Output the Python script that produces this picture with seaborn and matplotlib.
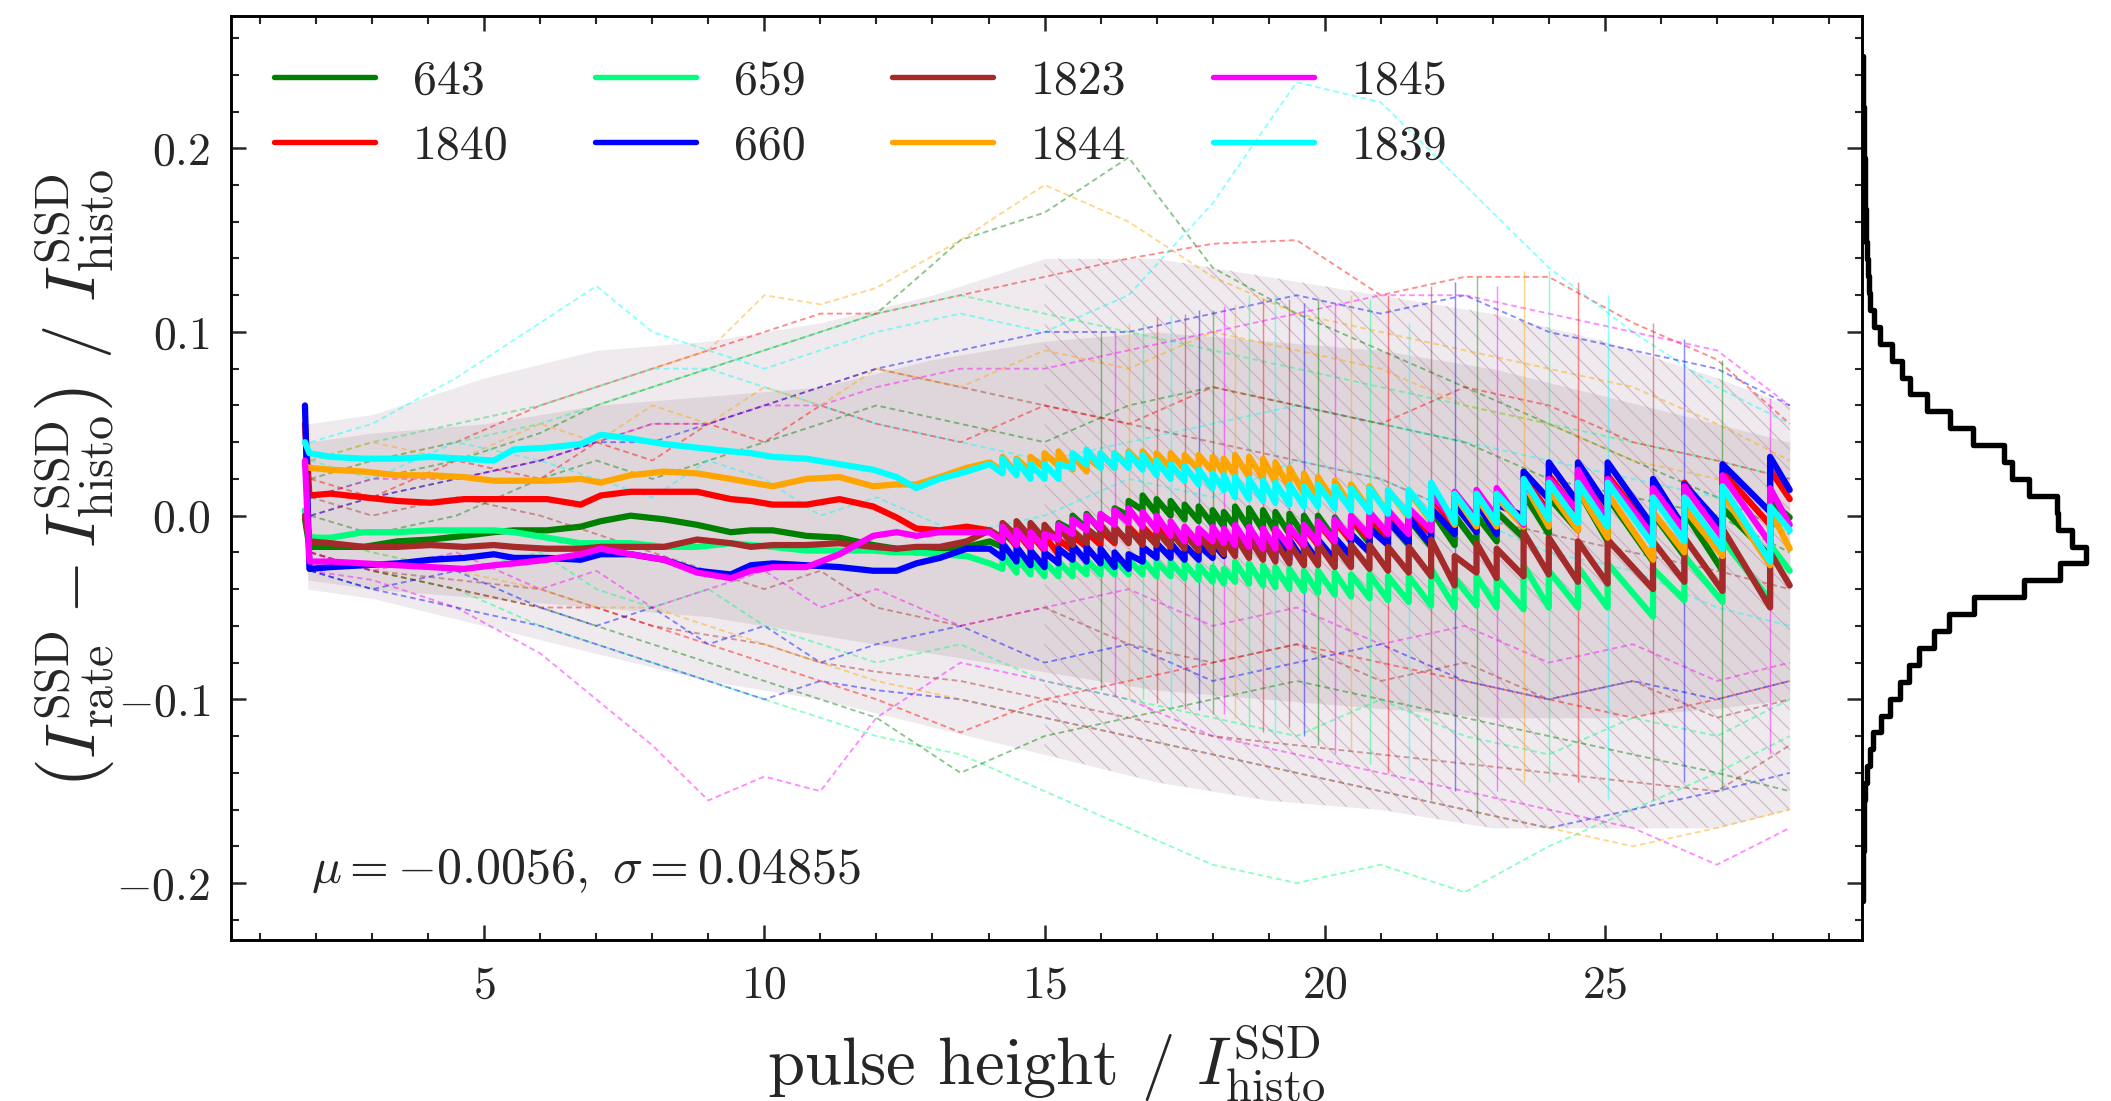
import numpy as np
import pandas as pd
import matplotlib
matplotlib.use("Agg")
import matplotlib.pyplot as plt
from matplotlib.lines import Line2D
from matplotlib.ticker import MultipleLocator
import seaborn as sns

# ---------------- data ----------------
names = ["643", "1840", "659", "660", "1823", "1844", "1845", "1839"]
colors = ["green", "red", "springgreen", "blue", "brown", "orange", "magenta", "cyan"]

# smooth early part (shared x)
XA = [1.80, 1.88, 2.26, 2.85, 3.45, 4.04, 4.64, 5.17, 5.53, 6.12, 6.72, 7.08, 7.61,
      8.21, 8.80, 9.40, 9.76, 10.15, 10.75, 11.34, 11.94, 12.36, 12.71, 13.13, 13.61, 14.02]
# jump positions of the sawtooth part (shared) and jump heights
JX = [14.25, 14.5, 14.75, 15.0, 15.25, 15.5, 15.75, 16.0, 16.25, 16.5, 16.75, 17.0, 17.25,
      17.5, 17.75, 18.0, 18.2,
      18.40, 18.65, 18.90, 19.12, 19.37, 19.63, 19.88, 20.18, 20.47, 20.80, 21.13, 21.50,
      21.90, 22.32, 22.71, 23.07, 23.55, 24.00, 24.52, 25.05, 25.86, 26.42, 27.10, 27.95]
JH = [0.008] * 17 + [0.011, 0.011, 0.011, 0.011, 0.011, 0.011, 0.012, 0.012, 0.012, 0.013,
                     0.013, 0.014, 0.020, 0.016, 0.016, 0.016, 0.024, 0.020, 0.022, 0.024,
                     0.026, 0.024, 0.034, 0.030]
X_END = 28.3

ya_643 = [-0.002, -0.017, -0.017, -0.017, -0.014, -0.013, -0.011, -0.009, -0.008, -0.008, -0.006,
          -0.003, 0.000, -0.002, -0.005, -0.009, -0.008, -0.008, -0.011, -0.012, -0.016, -0.018,
          -0.020, -0.018, -0.017, -0.014]
lo_643 = [-0.017, -0.016, -0.016, -0.015, -0.012, -0.008, -0.007, -0.008, -0.004, 0.000, 0.003,
          0.001, 0.000, -0.002, -0.003, -0.005, -0.006,
          -0.006, -0.007, -0.008, -0.009, -0.010, -0.011, -0.012, -0.013, -0.014, -0.015, -0.016,
          -0.016, -0.017, -0.016, -0.016, -0.014, -0.012, -0.010, -0.008, -0.014, -0.025, -0.022,
          -0.030, -0.022]
end_643 = -0.001

ya_1840 = [0.050, 0.011, 0.012, 0.010, 0.008, 0.007, 0.009, 0.009, 0.009, 0.009, 0.006, 0.011,
           0.013, 0.013, 0.013, 0.009, 0.008, 0.006, 0.006, 0.009, 0.005, -0.001, -0.007, -0.008,
           -0.006, -0.008]
lo_1840 = [-0.014, -0.017, -0.018, -0.019, -0.021, -0.019, -0.017, -0.016, -0.015, -0.014, -0.014,
           -0.014, -0.015, -0.015, -0.016, -0.016, -0.017,
           -0.018, -0.018, -0.019, -0.019, -0.018, -0.017, -0.016, -0.015, -0.014, -0.013, -0.012,
           -0.012, -0.010, -0.006, -0.005, -0.006, -0.003, 0.002, 0.002, -0.002, -0.010, -0.006,
           -0.010, -0.005]
end_1840 = 0.009

ya_659 = [0.003, -0.012, -0.012, -0.009, -0.009, -0.008, -0.008, -0.008, -0.009, -0.012, -0.015,
          -0.015, -0.015, -0.017, -0.017, -0.015, -0.016, -0.017, -0.019, -0.019, -0.019, -0.020,
          -0.020, -0.021, -0.022, -0.026]
lo_659 = [-0.029, -0.031, -0.032, -0.033, -0.033, -0.033, -0.032, -0.032, -0.032, -0.032, -0.032,
          -0.033, -0.033, -0.034, -0.035, -0.036, -0.037,
          -0.036, -0.037, -0.038, -0.039, -0.040, -0.041, -0.042, -0.043, -0.044, -0.045, -0.046,
          -0.047, -0.049, -0.050, -0.049, -0.050, -0.051, -0.050, -0.050, -0.050, -0.055, -0.046,
          -0.047, -0.046]
end_659 = -0.030

ya_660 = [0.060, -0.029, -0.028, -0.027, -0.026, -0.024, -0.023, -0.021, -0.023, -0.023, -0.024,
          -0.021, -0.021, -0.024, -0.030, -0.032, -0.027, -0.026, -0.027, -0.028, -0.030, -0.030,
          -0.026, -0.023, -0.018, -0.018]
lo_660 = [-0.023, -0.025, -0.027, -0.028, -0.026, -0.024, -0.025, -0.026, -0.028, -0.029, -0.025,
          -0.023, -0.023, -0.024, -0.024, -0.023, -0.022,
          -0.020, -0.021, -0.022, -0.023, -0.024, -0.025, -0.025, -0.024, -0.022, -0.020, -0.016,
          -0.015, -0.016, -0.010, -0.009, -0.010, 0.000, 0.009, 0.007, 0.005, -0.006, -0.007,
          -0.006, 0.002]
end_660 = 0.014

ya_1823 = [0.000, -0.014, -0.015, -0.017, -0.017, -0.016, -0.017, -0.016, -0.017, -0.018, -0.018,
           -0.017, -0.017, -0.017, -0.013, -0.015, -0.017, -0.016, -0.016, -0.015, -0.017, -0.018,
           -0.017, -0.017, -0.014, -0.008]
lo_1823 = [-0.012, -0.011, -0.012, -0.013, -0.014, -0.016, -0.015, -0.013, -0.014, -0.015, -0.016,
           -0.016, -0.017, -0.018, -0.019, -0.020, -0.021,
           -0.022, -0.023, -0.024, -0.025, -0.026, -0.027, -0.027, -0.028, -0.028, -0.029, -0.030,
           -0.031, -0.033, -0.038, -0.031, -0.034, -0.033, -0.032, -0.036, -0.037, -0.040, -0.036,
           -0.041, -0.050]
end_1823 = -0.038

ya_1844 = [0.027, 0.026, 0.025, 0.024, 0.022, 0.022, 0.021, 0.019, 0.019, 0.019, 0.020, 0.018,
           0.022, 0.024, 0.023, 0.020, 0.018, 0.016, 0.020, 0.021, 0.016, 0.017, 0.017, 0.021,
           0.026, 0.029]
lo_1844 = [0.024, 0.023, 0.024, 0.026, 0.027, 0.025, 0.024, 0.026, 0.026, 0.027, 0.027, 0.026,
           0.026, 0.025, 0.025, 0.024, 0.023,
           0.022, 0.021, 0.020, 0.018, 0.015, 0.012, 0.009, 0.007, 0.005, 0.003, 0.001, -0.001,
           -0.003, -0.005, -0.006, -0.006, -0.006, -0.006, -0.008, -0.012, -0.024, -0.020, -0.022,
           -0.027]
end_1844 = -0.018

ya_1845 = [0.030, -0.025, -0.025, -0.026, -0.027, -0.028, -0.029, -0.027, -0.026, -0.024, -0.021,
           -0.018, -0.021, -0.024, -0.031, -0.034, -0.030, -0.028, -0.028, -0.021, -0.011, -0.009,
           -0.011, -0.009, -0.009, -0.009]
lo_1845 = [-0.014, -0.016, -0.017, -0.018, -0.013, -0.010, -0.008, -0.007, -0.005, -0.004, -0.006,
           -0.008, -0.011, -0.014, -0.015, -0.014, -0.015,
           -0.016, -0.017, -0.018, -0.018, -0.017, -0.016, -0.015, -0.014, -0.012, -0.011, -0.010,
           -0.010, -0.008, -0.003, -0.002, -0.001, -0.005, 0.000, 0.003, -0.004, -0.011, -0.008,
           -0.012, -0.015]
end_1845 = -0.005

ya_1839 = [0.040, 0.034, 0.032, 0.031, 0.031, 0.032, 0.031, 0.030, 0.036, 0.037, 0.039, 0.044,
           0.042, 0.039, 0.037, 0.035, 0.034, 0.032, 0.031, 0.028, 0.025, 0.021, 0.015, 0.020,
           0.024, 0.028]
lo_1839 = [0.023, 0.022, 0.020, 0.020, 0.020, 0.026, 0.028, 0.026, 0.026, 0.026, 0.025, 0.022,
           0.020, 0.019, 0.017, 0.015, 0.014,
           0.010, 0.009, 0.008, 0.007, 0.006, 0.005, 0.005, 0.004, 0.003, 0.002, 0.001, 0.000,
           -0.002, -0.004, -0.004, -0.004, -0.004, -0.002, -0.004, -0.006, -0.016, -0.014, -0.018,
           -0.025]
end_1839 = -0.008

series_ya = [ya_643, ya_1840, ya_659, ya_660, ya_1823, ya_1844, ya_1845, ya_1839]
series_lo = [lo_643, lo_1840, lo_659, lo_660, lo_1823, lo_1844, lo_1845, lo_1839]
series_end = [end_643, end_1840, end_659, end_660, end_1823, end_1844, end_1845, end_1839]

# faint background runs (coarse)
FX = [1.9, 3, 4.5, 6, 7, 8, 9, 10, 11, 12, 13.5, 15, 16.5, 18, 19.5, 21, 22.5, 24, 25.5, 27, 28.3]
faint_y = [
    [0.01, 0.02, 0.03, 0.045, 0.06, 0.07, 0.08, 0.09, 0.10, 0.11, 0.15, 0.165, 0.195, 0.135, 0.11, 0.09, 0.07, 0.05, 0.03, 0.01, -0.01],
    [-0.02, -0.03, -0.04, -0.06, -0.07, -0.08, -0.09, -0.10, -0.11, -0.12, -0.13, -0.15, -0.17, -0.19, -0.20, -0.19, -0.205, -0.18, -0.16, -0.14, -0.12],
    [0.0, 0.01, 0.02, 0.03, 0.04, 0.05, 0.05, 0.06, 0.07, 0.08, 0.07, 0.06, 0.05, 0.04, 0.03, 0.02, 0.0, -0.01, -0.02, -0.03, -0.04],
    [-0.03, -0.035, -0.05, -0.075, -0.10, -0.125, -0.155, -0.142, -0.15, -0.11, -0.08, -0.09, -0.10, -0.12, -0.13, -0.14, -0.15, -0.16, -0.17, -0.19, -0.17],
    [0.02, 0.03, 0.04, 0.06, 0.07, 0.08, 0.09, 0.10, 0.11, 0.11, 0.12, 0.13, 0.14, 0.148, 0.15, 0.12, 0.13, 0.13, 0.105, 0.085, 0.05],
    [-0.03, -0.04, -0.05, -0.06, -0.07, -0.08, -0.09, -0.10, -0.09, -0.095, -0.10, -0.11, -0.12, -0.13, -0.14, -0.15, -0.16, -0.17, -0.16, -0.15, -0.14],
    [0.03, 0.04, 0.05, 0.06, 0.07, 0.08, 0.09, 0.12, 0.115, 0.124, 0.15, 0.18, 0.16, 0.13, 0.11, 0.10, 0.09, 0.08, 0.07, 0.05, 0.03],
    [0.04, 0.05, 0.075, 0.105, 0.125, 0.10, 0.09, 0.08, 0.09, 0.10, 0.11, 0.10, 0.12, 0.17, 0.236, 0.225, 0.18, 0.135, 0.10, 0.07, 0.05],
    [-0.02, -0.03, -0.04, -0.05, -0.06, -0.07, -0.08, -0.09, -0.10, -0.11, -0.14, -0.12, -0.11, -0.10, -0.09, -0.10, -0.11, -0.12, -0.13, -0.14, -0.15],
    [0.02, 0.03, 0.04, 0.05, 0.06, 0.07, 0.08, 0.09, 0.10, 0.11, 0.12, 0.11, 0.10, 0.09, 0.08, 0.07, 0.06, 0.05, 0.04, 0.03, 0.02],
    [-0.02, -0.03, -0.035, -0.04, -0.05, -0.06, -0.065, -0.07, -0.08, -0.085, -0.09, -0.10, -0.11, -0.12, -0.125, -0.13, -0.135, -0.14, -0.145, -0.15, -0.125],
    [0.01, 0.02, 0.02, 0.03, 0.04, 0.05, 0.05, 0.06, 0.06, 0.07, 0.08, 0.08, 0.09, 0.10, 0.11, 0.12, 0.12, 0.11, 0.10, 0.09, 0.06],
    [-0.02, -0.03, -0.04, -0.05, -0.05, -0.06, -0.07, -0.08, -0.09, -0.10, -0.118, -0.10, -0.09, -0.08, -0.07, -0.08, -0.09, -0.10, -0.11, -0.10, -0.09],
    [0.0, 0.01, 0.02, 0.03, 0.04, 0.04, 0.05, 0.06, 0.07, 0.08, 0.09, 0.10, 0.10, 0.11, 0.12, 0.11, 0.12, 0.10, 0.09, 0.08, 0.06],
    [-0.01, -0.02, -0.03, -0.04, -0.05, -0.05, -0.06, -0.07, -0.08, -0.09, -0.10, -0.11, -0.12, -0.13, -0.14, -0.15, -0.16, -0.17, -0.18, -0.17, -0.16],
    [0.03, 0.04, 0.05, 0.06, 0.07, 0.08, 0.08, 0.07, 0.06, 0.05, 0.04, 0.03, 0.04, 0.05, 0.06, 0.05, 0.04, 0.03, 0.02, 0.01, 0.0],
    [0.0, -0.01, 0.0, 0.02, 0.03, 0.02, 0.03, 0.04, 0.05, 0.06, 0.05, 0.04, 0.06, 0.07, 0.06, 0.05, 0.04, 0.02, 0.01, 0.0, -0.02],
    [-0.01, -0.02, -0.03, -0.02, -0.04, -0.05, -0.04, -0.06, -0.07, -0.08, -0.07, -0.09, -0.10, -0.11, -0.12, -0.10, -0.12, -0.13, -0.11, -0.12, -0.10],
    [0.01, 0.0, 0.01, 0.0, -0.01, -0.02, -0.03, -0.04, -0.03, -0.05, -0.06, -0.05, -0.07, -0.08, -0.07, -0.09, -0.08, -0.10, -0.09, -0.11, -0.10],
    [-0.02, -0.03, -0.02, -0.04, -0.03, -0.05, -0.04, -0.03, -0.05, -0.04, -0.06, -0.05, -0.04, -0.06, -0.05, -0.07, -0.06, -0.08, -0.07, -0.09, -0.08],
    [0.02, 0.01, 0.03, 0.02, 0.04, 0.03, 0.05, 0.04, 0.06, 0.05, 0.04, 0.06, 0.05, 0.07, 0.06, 0.05, 0.07, 0.06, 0.04, 0.03, 0.02],
    [-0.03, -0.04, -0.03, -0.05, -0.06, -0.05, -0.07, -0.06, -0.08, -0.07, -0.06, -0.08, -0.07, -0.09, -0.08, -0.07, -0.09, -0.10, -0.09, -0.10, -0.09],
    [0.03, 0.04, 0.03, 0.05, 0.04, 0.06, 0.05, 0.07, 0.06, 0.08, 0.07, 0.09, 0.08, 0.10, 0.09, 0.08, 0.06, 0.05, 0.03, 0.02, 0.0],
    [0.03, 0.02, 0.04, 0.03, 0.02, 0.01, 0.03, 0.02, 0.0, 0.01, -0.01, 0.0, 0.02, 0.01, 0.03, 0.02, 0.0, -0.02, -0.03, -0.05, -0.06],
]

# envelope of the dense cloud of runs
EX = [1.85, 3, 5, 7, 9, 11, 13, 15, 17, 19, 21, 23, 25, 27, 28.3]
outer_hi = [0.05, 0.055, 0.075, 0.09, 0.095, 0.105, 0.12, 0.14, 0.14, 0.13, 0.12, 0.11, 0.095, 0.075, 0.06]
outer_lo = [-0.04, -0.045, -0.06, -0.075, -0.09, -0.10, -0.115, -0.13, -0.145, -0.155, -0.16, -0.17, -0.17, -0.17, -0.16]
core_hi = [0.04, 0.045, 0.05, 0.06, 0.065, 0.07, 0.085, 0.095, 0.10, 0.095, 0.09, 0.08, 0.065, 0.05, 0.04]
core_lo = [-0.035, -0.04, -0.045, -0.05, -0.055, -0.065, -0.075, -0.085, -0.095, -0.10, -0.105, -0.11, -0.11, -0.105, -0.10]

# vertical jump strokes of the background runs
VX = JX[7:]
VTOP = [0.100, 0.100, 0.105, 0.105, 0.108, 0.110, 0.110, 0.112, 0.112, 0.114,
        0.115, 0.120, 0.118, 0.120, 0.118, 0.116, 0.118, 0.115, 0.120, 0.118, 0.120, 0.105,
        0.125, 0.127, 0.130, 0.125, 0.133, 0.133, 0.127, 0.120, 0.105, 0.096, 0.085, 0.064]
VBOT = [-0.095, -0.098, -0.100, -0.100, -0.102, -0.104, -0.105, -0.106, -0.108, -0.108,
        -0.110, -0.115, -0.118, -0.120, -0.115, -0.120, -0.125, -0.130, -0.128, -0.135, -0.140,
        -0.140, -0.155, -0.150, -0.164, -0.150, -0.145, -0.145, -0.145, -0.155, -0.155, -0.145,
        -0.150, -0.130]

# marginal histogram (counts per bin, bottom to top)
hist_lo, hist_hi, hist_n = -0.21, 0.25, 50
hist_counts = [2, 3, 4, 5, 6, 7, 10, 15, 23, 33, 57, 85, 113, 140, 170, 215, 260, 335, 485, 595,
               672, 630, 587, 585, 500, 450, 425, 333, 265, 195, 143, 120, 90, 55, 35, 25, 20, 17,
               15, 13, 12, 10, 9, 8, 7, 6, 5, 4, 4, 3]

stats_text = r"$\mu = -0.0056,\ \sigma = 0.04855$"

# ---------------- style ----------------
sns.set_style("ticks")
plt.rcParams.update({
    "font.family": "serif",
    "font.serif": ["cmr10", "DejaVu Serif"],
    "mathtext.fontset": "cm",
    "axes.formatter.use_mathtext": True,
    "axes.unicode_minus": True,
    "xtick.direction": "in", "ytick.direction": "in",
    "xtick.top": True, "ytick.right": True,
    "xtick.major.size": 3.5, "ytick.major.size": 3.5,
    "xtick.minor.size": 1.8, "ytick.minor.size": 1.8,
    "xtick.major.width": 0.6, "ytick.major.width": 0.6,
    "xtick.minor.width": 0.5, "ytick.minor.width": 0.5,
    "axes.linewidth": 0.7,
    "axes.edgecolor": "black",
    "hatch.linewidth": 0.3,
})

fig = plt.figure(figsize=(2111 / 300, 1101 / 300), dpi=300)
ax = fig.add_axes([231 / 2111, 161 / 1101, (1862 - 231) / 2111, (940 - 16) / 1101])
axh = fig.add_axes([1862 / 2111, 161 / 1101, (2100 - 1862) / 2111, (940 - 16) / 1101], sharey=ax)

# cloud
ax.fill_between(EX, outer_lo, outer_hi, color="#dcd2da", alpha=0.45, lw=0, zorder=1)
ax.fill_between(EX, core_lo, core_hi, color="#cdbfc6", alpha=0.45, lw=0, zorder=1)
# declining saw-teeth texture of the many runs beyond x ~ 15
ax.fill_between(EX[7:], outer_lo[7:], outer_hi[7:], facecolor="none", edgecolor="#b48ca6",
                hatch="\\\\\\\\\\", lw=0, alpha=0.5, zorder=1)

faint_colors = ["green", "springgreen", "brown", "magenta", "red", "blue", "orange", "cyan"]
for i, ys in enumerate(faint_y):
    sns.lineplot(x=FX, y=ys, color=faint_colors[i % 8], lw=0.45, alpha=0.45,
                 dashes=False, ls=(0, (3, 2)), estimator=None, sort=False, ax=ax,
                 legend=False, zorder=2)

ax.vlines(VX, VBOT, VTOP, colors=[faint_colors[(i * 3) % 8] for i in range(len(VX))], lw=0.35,
          alpha=0.45, zorder=2)

# bold runs
for name, c, ya, lo, ye in zip(names, colors, series_ya, series_lo, series_end):
    xs = list(XA)
    ys = list(ya)
    for xj, hj, l in zip(JX, JH, lo):
        xs += [xj, xj]
        ys += [l, l + hj]
    xs.append(X_END)
    ys.append(ye)
    df = pd.DataFrame({"x": xs, "y": ys})
    sns.lineplot(data=df, x="x", y="y", color=c, lw=1.5, estimator=None, sort=False,
                 ax=ax, legend=False, zorder=3)

ax.set_xlim(0.48, 29.59)
ax.set_ylim(-0.231, 0.272)
ax.xaxis.set_major_locator(MultipleLocator(5))
ax.xaxis.set_minor_locator(MultipleLocator(1))
ax.yaxis.set_major_locator(MultipleLocator(0.1))
ax.yaxis.set_minor_locator(MultipleLocator(0.02))
ax.tick_params(which="both", top=True, right=True, direction="in")
ax.tick_params(axis="both", which="major", labelsize=11)
ax.tick_params(axis="x", which="major", pad=6)
ax.tick_params(axis="y", which="major", pad=5)
ax.yaxis.set_major_formatter(matplotlib.ticker.FuncFormatter(lambda v, p: f"${v:.1f}$"))
ax.xaxis.set_major_formatter(matplotlib.ticker.FuncFormatter(lambda v, p: f"${v:.0f}$"))

ax.set_xlabel(r"pulse height / $I^{\mathrm{SSD}}_{\mathrm{histo}}$", fontsize=16, labelpad=4)
ax.set_ylabel(r"$\left(I^{\mathrm{SSD}}_{\mathrm{rate}} - I^{\mathrm{SSD}}_{\mathrm{histo}}\right)$ / $I^{\mathrm{SSD}}_{\mathrm{histo}}$",
              fontsize=16.5, labelpad=0)

handles = [Line2D([0], [0], color=c, lw=1.3) for c in colors]
ax.legend(handles, names, ncol=4, loc="upper left", frameon=False, fontsize=11.5,
          handlelength=2.1, handletextpad=0.8, columnspacing=1.8, labelspacing=0.45,
          borderaxespad=0.5, bbox_to_anchor=(0.0, 1.0))

ax.text(0.049, 0.075, stats_text, transform=ax.transAxes, fontsize=12, va="center", ha="left")

# marginal histogram
edges = np.linspace(hist_lo, hist_hi, hist_n + 1)
centers = 0.5 * (edges[:-1] + edges[1:])
hdf = pd.DataFrame({"v": centers, "w": hist_counts})
sns.histplot(data=hdf, y="v", weights="w", bins=list(edges), element="step", fill=False,
             color="black", linewidth=1.3, ax=axh)
axh.set_xlim(0, 714)
axh.axis("off")

fig.savefig("out.png", dpi=300)
